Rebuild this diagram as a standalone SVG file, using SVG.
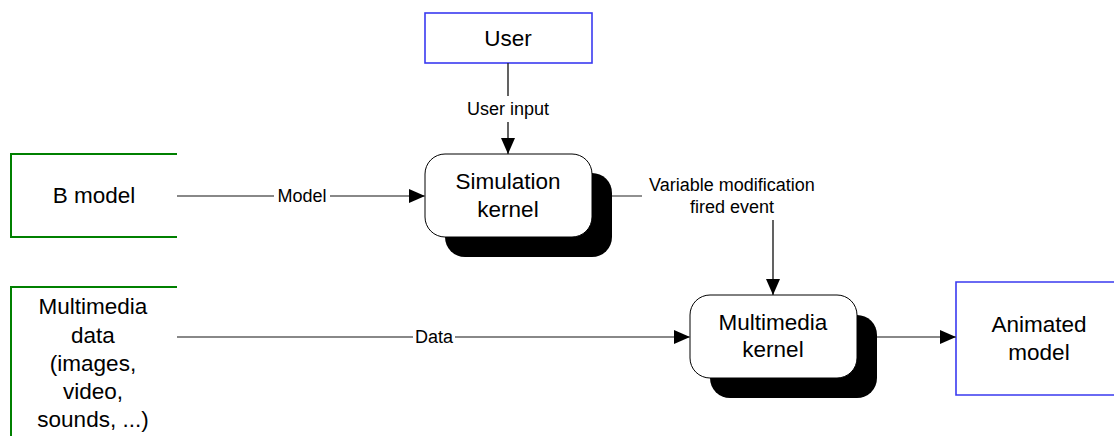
<svg xmlns="http://www.w3.org/2000/svg" width="1114" height="436" viewBox="0 0 1114 436">
<style>
text{font-family:"Liberation Sans",Arial,sans-serif;fill:#000;text-anchor:middle}
.big{font-size:22.5px}
.lbl{font-size:18px}
.ext{fill:#fff;stroke:#3a3af0;stroke-width:1.6}
.src{fill:none;stroke:#008000;stroke-width:2}
.proc{fill:#fff;stroke:#000;stroke-width:1}
.shadow{fill:#000}
.cn{fill:none;stroke:#606060;stroke-width:1.4}
.cv{fill:none;stroke:#202020;stroke-width:1.4}
</style>
<defs>
<marker id="arr" markerWidth="16" markerHeight="14" refX="16" refY="7" orient="auto" markerUnits="userSpaceOnUse">
<path d="M0,0 L16,7 L0,14 Z" fill="#000"/>
</marker>
</defs>
<g id="user">
<rect class="ext" x="425" y="13" width="167" height="50"/>
<text class="big" x="508" y="46">User</text>
</g>
<g id="bmodel">
<path class="src" d="M177,154 H11 V237 H177"/>
<text class="big" x="94" y="203">B model</text>
</g>
<g id="simkernel">
<rect class="shadow" x="445" y="173" width="167" height="84" rx="20"/>
<rect class="proc" x="425" y="154" width="167" height="83" rx="20"/>
<text class="big" x="508" y="189">Simulation</text>
<text class="big" x="508" y="217">kernel</text>
</g>
<g id="mmdata">
<path class="src" d="M177,287 H11 V440"/>
<text class="big" x="93" y="314">Multimedia</text>
<text class="big" x="93" y="343">data</text>
<text class="big" x="93" y="371">(images,</text>
<text class="big" x="93" y="399">video,</text>
<text class="big" x="93" y="427">sounds, ...)</text>
</g>
<g id="mmkernel">
<rect class="shadow" x="710" y="315" width="167" height="83" rx="20"/>
<rect class="proc" x="690" y="295" width="167" height="83" rx="20"/>
<text class="big" x="773" y="330">Multimedia</text>
<text class="big" x="773" y="357">kernel</text>
</g>
<g id="animated">
<path class="ext" d="M1120,282 H956 V395 H1120"/>
<text class="big" x="1039" y="332">Animated</text>
<text class="big" x="1039" y="360">model</text>
</g>
<g id="connectors">
<line class="cv" x1="508" y1="63" x2="508" y2="96"/>
<line class="cv" x1="508" y1="122" x2="508" y2="154" marker-end="url(#arr)"/>
<text class="lbl" x="508" y="115">User input</text>
<line class="cn" x1="177" y1="196" x2="274" y2="196"/>
<line class="cn" x1="330" y1="196" x2="425" y2="196" marker-end="url(#arr)"/>
<text class="lbl" x="302" y="202">Model</text>
<line class="cn" x1="612" y1="196" x2="642" y2="196"/>
<text class="lbl" x="732" y="191">Variable modification</text>
<text class="lbl" x="732" y="213">fired event</text>
<line class="cv" x1="773" y1="220" x2="773" y2="295" marker-end="url(#arr)"/>
<line class="cn" x1="177" y1="337" x2="413" y2="337"/>
<line class="cn" x1="455" y1="337" x2="690" y2="337" marker-end="url(#arr)"/>
<text class="lbl" x="434" y="343">Data</text>
<line class="cn" x1="877" y1="337" x2="956" y2="337" marker-end="url(#arr)"/>
</g>
</svg>
